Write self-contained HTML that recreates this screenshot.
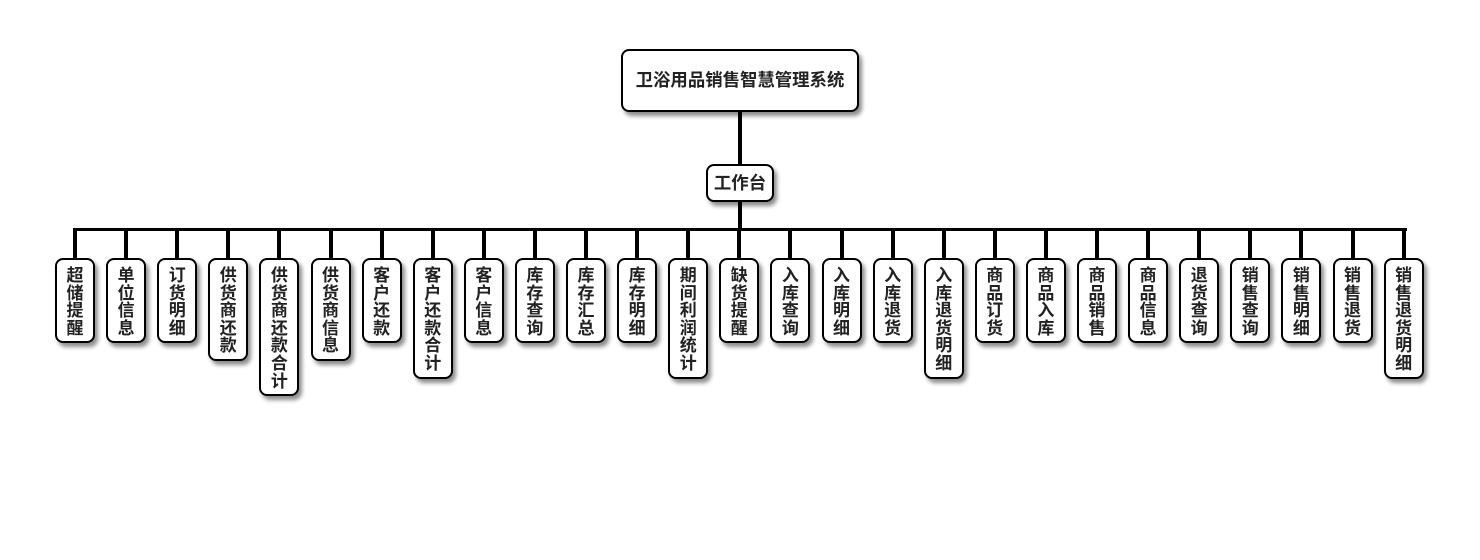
<!DOCTYPE html>
<html><head><meta charset="utf-8"><style>
body{margin:0;width:1480px;height:560px;background:#fff;position:relative;overflow:hidden;font-family:"Liberation Sans","Noto Sans CJK SC",sans-serif;font-weight:bold;color:#222}
.b{position:absolute;background:#fff;border:2px solid #000;border-radius:8px;box-shadow:3px 4px 4px rgba(0,0,0,0.45);box-sizing:border-box;text-align:center}
.c{position:absolute;top:258px;width:40px;font-size:17px;line-height:17.6px;padding-top:7px}
.l{position:absolute;background:#000}
</style></head><body>
<div class="b" style="left:621px;top:49px;width:238px;height:63px;font-size:17.4px;line-height:59px;white-space:nowrap">卫浴用品销售智慧管理系统</div>
<div class="l" style="left:738px;top:112px;width:4px;height:52px"></div>
<div class="b" style="left:706px;top:164px;width:68px;height:38px;font-size:17.4px;line-height:34px">工作台</div>
<div class="l" style="left:738px;top:202px;width:4px;height:28px"></div>
<div class="l" style="left:73px;top:228px;width:1334px;height:3px"></div>
<div id="k"></div>
<script>
var n=["超储提醒","单位信息","订货明细","供货商还款","供货商还款合计","供货商信息","客户还款","客户还款合计","客户信息","库存查询","库存汇总","库存明细","期间利润统计","缺货提醒","入库查询","入库明细","入库退货","入库退货明细","商品订货","商品入库","商品销售","商品信息","退货查询","销售查询","销售明细","销售退货","销售退货明细"];
var h="";
for(var i=0;i<n.length;i++){var cx=75+i*51.1;var s=n[i];var H=15+17.6*s.length;
h+='<div class="l" style="left:'+(cx-2)+'px;top:228px;width:4px;height:30px"></div>';
h+='<div class="b c" style="left:'+(cx-20)+'px;height:'+H+'px">'+s.split("").join("<br>")+'</div>';}
document.getElementById("k").innerHTML=h;
</script>
</body></html>
